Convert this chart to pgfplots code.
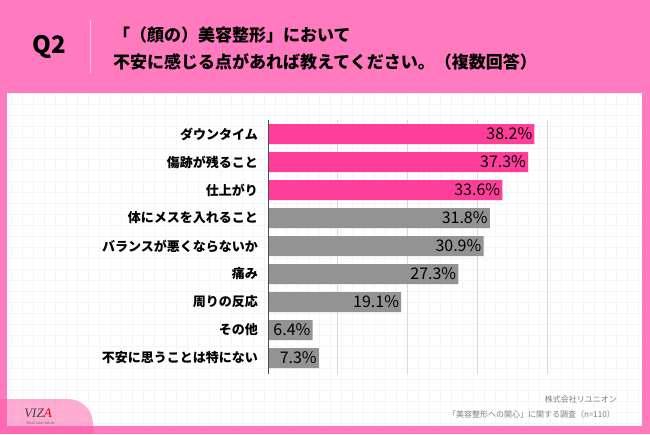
\documentclass[border=0pt]{standalone}
\usepackage{fontspec}
\setmainfont{Noto Sans CJK JP}
\newfontfamily\seriffont{Liberation Serif}
\usepackage{pgfplots}
\pgfplotsset{compat=1.18}
\definecolor{bgpink}{RGB}{255,122,190}
\definecolor{barpink}{RGB}{255,61,154}
\definecolor{bargray}{RGB}{147,147,147}
\definecolor{logopink}{RGB}{255,90,170}
\definecolor{sep}{RGB}{255,190,222}
\begin{document}
\begin{tikzpicture}[x=1pt,y=1pt]
\useasboundingbox (0,0) rectangle (650,434);
\fill[bgpink] (0,0) rectangle (650,434);
\fill[white] (7,8) rectangle (642,341);
\begin{scope}
\clip (7,8) rectangle (642,341);
\draw[black!4, line width=0.5pt, step=11pt] (7,8) grid (642,341);
\end{scope}
% logo
\fill[logopink, opacity=0.5] (0,0) -- (0,35) -- (68,35) arc (90:0:25) -- (93,0) -- cycle;
\node[text=black!75, font=\fontsize{13}{13}\selectfont\seriffont\itshape] at (38,21) {VIZ\textcolor{red!85!black}{A}};
\node[text=black!60, font=\fontsize{4.5}{4.5}\selectfont\seriffont] at (40,11) {Total care salon};
% header
\node[font=\fontsize{24}{24}\selectfont\bfseries] at (49,387) {Q2};
\draw[sep, line width=1pt] (90,361) -- (90,414);
\node[anchor=west, inner sep=0pt, font=\fontsize{17}{17}\selectfont\bfseries] at (113,399) {「（顔の）美容整形」において};
\node[anchor=west, inner sep=0pt, font=\fontsize{17}{17}\selectfont\bfseries] at (113,372) {不安に感じる点があれば教えてください。（複数回答）};
% footer
\node[anchor=east, inner sep=0pt, text=black!50, font=\fontsize{8}{8}\selectfont] at (617,35) {株式会社リユニオン};
\node[anchor=east, inner sep=0pt, text=black!50, font=\fontsize{8}{8}\selectfont] at (615,20) {「美容整形への関心」に関する調査（n=110）};
\begin{axis}[
  at={(268pt,60pt)}, anchor=south west,
  scale only axis, width=279pt, height=254pt,
  xbar, bar width=20pt, bar shift=0pt,
  xmin=0, xmax=40, ymin=-0.5, ymax=8.57, y dir=reverse,
  xtick={0,10,20,30,40}, xticklabels={},
  xmajorgrids, major grid style={draw=black!15, line width=0.8pt},
  axis line style={draw=none},
  ytick={0,...,8},
  yticklabels={ダウンタイム,傷跡が残ること,仕上がり,体にメスを入れること,バランスが悪くならないか,痛み,周りの反応,その他,不安に思うことは特にない},
  major tick length=0pt,
  yticklabel style={font=\fontsize{13}{13}\selectfont\bfseries, anchor=east, inner sep=0pt, xshift=-10pt},
  point meta=x,
  nodes near coords={\pgfmathprintnumber[fixed,fixed zerofill,precision=1,assume math mode=true]{\pgfplotspointmeta}\%},
  clip=false,
]
\addplot[fill=barpink, draw=none, every node near coord/.append style={anchor=east, xshift=-2pt, inner sep=0pt, text=black, font=\fontsize{16}{16}\selectfont}] coordinates {(38.2,0) (37.3,1) (33.6,2)};
\addplot[fill=bargray, draw=none, every node near coord/.append style={anchor=east, xshift=-2pt, inner sep=0pt, text=black, font=\fontsize{16}{16}\selectfont}] coordinates {(31.8,3) (30.9,4) (27.3,5) (19.1,6) (6.4,7) (7.3,8)};
\draw[black!70, line width=0.8pt] (axis cs:0,-0.5) -- (axis cs:0,8.57);
\end{axis}
\end{tikzpicture}
\end{document}
